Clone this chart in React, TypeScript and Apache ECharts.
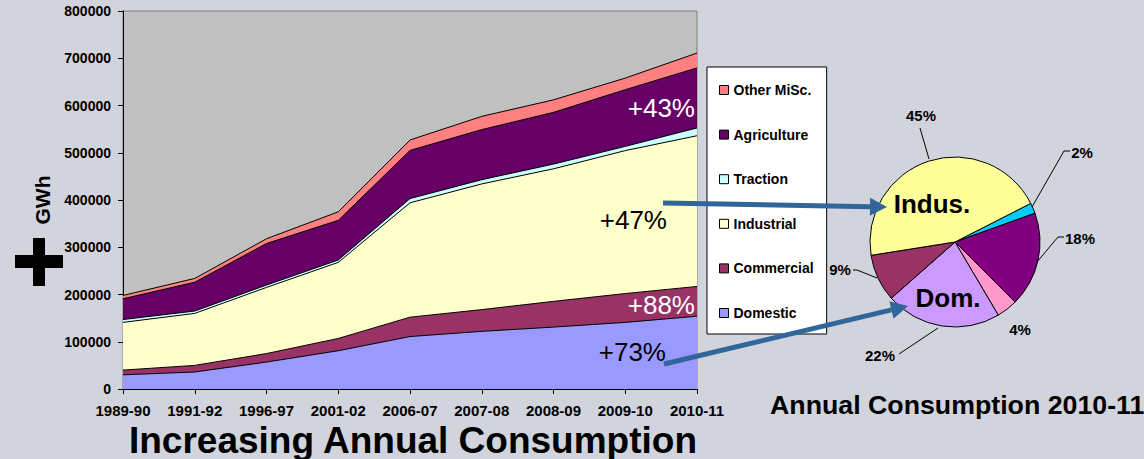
import { useEffect, useRef } from "react";
import * as echarts from "echarts";

// Annual consumption by sector, GWh (stacked bottom to top)
const years = ["1989-90", "1991-92", "1996-97", "2001-02", "2006-07", "2007-08", "2008-09", "2009-10", "2010-11"];
const domestic = [30000, 36000, 57000, 81000, 111000, 122000, 131000, 141000, 154000];
const commercial = [10000, 14000, 18000, 26000, 41000, 46000, 54500, 61000, 63000];
const industrial = [101000, 110000, 140000, 161000, 242000, 266000, 280500, 302500, 319000];
const traction = [6000, 5000, 5000, 5000, 9000, 9000, 10000, 9000, 16500];
const agriculture = [44000, 61000, 88000, 84000, 102000, 106000, 109500, 120000, 127000];
const otherMisc = [7000, 8000, 10000, 18000, 22000, 28000, 26500, 24500, 31500];

const yTicks = { min: 0, max: 800000, interval: 100000 };

// Share of each sector in 2010-11, %
const pieNames = ["Traction", "Agriculture", "Other MiSc.", "Domestic", "Commercial", "Industrial"];
const pieShares = [2, 18, 4, 22, 9, 45];

const growthLabels = ["+43%", "+47%", "+88%", "+73%"];

const FONT = '"Liberation Sans", Arial, Helvetica, sans-serif';
const ARROW = "#31669A";

const areaColors: Record<string, string> = {
  Domestic: "#9999FF",
  Commercial: "#993366",
  Industrial: "#FFFFCC",
  Traction: "#CCFFFF",
  Agriculture: "#660066",
  "Other MiSc.": "#FF8080",
};

const pieColors: Record<string, string> = {
  Traction: "#00CCFF",
  Agriculture: "#800080",
  "Other MiSc.": "#FF99CC",
  Domestic: "#CC99FF",
  Commercial: "#993366",
  Industrial: "#FFFF99",
};

function arrow(x1: number, y1: number, x2: number, y2: number) {
  const dx = x2 - x1;
  const dy = y2 - y1;
  const len = Math.hypot(dx, dy);
  const ux = dx / len;
  const uy = dy / len;
  const head = 17;
  const half = 9;
  const bx = x2 - ux * head;
  const by = y2 - uy * head;
  return [
    {
      type: "line",
      z: 100,
      shape: { x1, y1, x2: bx, y2: by },
      style: { stroke: ARROW, lineWidth: 5 },
    },
    {
      type: "polygon",
      z: 100,
      shape: {
        points: [
          [x2, y2],
          [bx - uy * half, by + ux * half],
          [bx + uy * half, by - ux * half],
        ],
      },
      style: { fill: ARROW },
    },
  ];
}

function leader(points: number[][]) {
  return { type: "polyline", z: 50, shape: { points }, style: { stroke: "#000", lineWidth: 1, fill: null } };
}

function buildOption() {
  const stacked = [
    { name: "Domestic", data: domestic },
    { name: "Commercial", data: commercial },
    { name: "Industrial", data: industrial },
    { name: "Traction", data: traction },
    { name: "Agriculture", data: agriculture },
    { name: "Other MiSc.", data: otherMisc },
  ];

  // label centres around the pie, by slice order
  const pieLabelPos = [
    [1082, 152],
    [1080, 238],
    [1020, 329],
    [880, 355],
    [840, 269],
    [921, 115],
  ];

  const growthText = (text: string, x: number, y: number, color: string) => ({
    type: "text",
    z: 60,
    x,
    y,
    style: {
      text,
      fill: color,
      font: `26px ${FONT}`,
      textAlign: "right",
      textVerticalAlign: "middle",
    },
  });

  return {
    animation: false,
    backgroundColor: "#D1D4DC",
    textStyle: { fontFamily: FONT },
    grid: {
      left: 123,
      right: 447,
      top: 11,
      bottom: 70,
      show: true,
      backgroundColor: "#C0C0C0",
      borderColor: "#808080",
      borderWidth: 1,
    },
    legend: {
      orient: "vertical",
      left: 707,
      top: 67,
      padding: [16, 13, 14, 12],
      itemGap: 30.6,
      itemWidth: 9,
      itemHeight: 9,
      icon: "rect",
      selectedMode: false,
      backgroundColor: "#FFFFFF",
      borderColor: "#000000",
      borderWidth: 1,
      borderRadius: 0,
      data: ["Other MiSc.", "Agriculture", "Traction", "Industrial", "Commercial", "Domestic"],
      itemStyle: { borderColor: "#000", borderWidth: 1 },
      textStyle: { fontFamily: FONT, fontSize: 14, fontWeight: "bold", color: "#000" },
    },
    xAxis: {
      type: "category",
      data: years,
      boundaryGap: false,
      axisLine: { lineStyle: { color: "#000", width: 1 } },
      axisTick: { show: true, length: 5, lineStyle: { color: "#000" } },
      axisLabel: {
        fontFamily: FONT,
        fontSize: 15,
        fontWeight: "bold",
        color: "#000",
        margin: 14,
        interval: 0,
        lineHeight: 15,
      },
      splitLine: { show: false },
    },
    yAxis: {
      type: "value",
      min: yTicks.min,
      max: yTicks.max,
      interval: yTicks.interval,
      name: "GWh",
      nameLocation: "middle",
      nameGap: 68,
      nameRotate: 90,
      nameTextStyle: { fontFamily: FONT, fontSize: 21, fontWeight: "bold", color: "#000" },
      axisLine: { show: true, lineStyle: { color: "#000", width: 1 } },
      axisTick: { show: true, length: 5, lineStyle: { color: "#000" } },
      axisLabel: {
        fontFamily: FONT,
        fontSize: 14,
        fontWeight: "bold",
        color: "#000",
        margin: 12,
        formatter: (v: number) => String(v),
      },
      splitLine: { show: false },
    },
    series: [
      ...stacked.map((s) => ({
        name: s.name,
        type: "line",
        stack: "total",
        data: s.data,
        showSymbol: false,
        symbol: "none",
        color: areaColors[s.name],
        lineStyle: { color: "#000", width: 1 },
        areaStyle: { color: areaColors[s.name], opacity: 1 },
        itemStyle: { color: areaColors[s.name] },
        emphasis: { disabled: true },
      })),
      {
        type: "pie",
        name: "Annual Consumption 2010-11",
        center: [955, 242],
        radius: 85,
        startAngle: 27,
        clockwise: true,
        avoidLabelOverlap: false,
        emphasis: { disabled: true },
        itemStyle: { borderColor: "#000", borderWidth: 1 },
        label: {
          show: true,
          position: "outside",
          formatter: "{c}%",
          fontFamily: FONT,
          fontSize: 15,
          fontWeight: "bold",
          color: "#000",
        },
        labelLine: { show: false },
        labelLayout: (params: any) => ({
          x: pieLabelPos[params.dataIndex][0],
          y: pieLabelPos[params.dataIndex][1],
          align: "center",
          verticalAlign: "middle",
        }),
        data: pieNames.map((n, i) => ({
          name: n,
          value: pieShares[i],
          itemStyle: { color: pieColors[n] },
        })),
      },
    ],
    graphic: [
      // big plus sign beside the value axis
      { type: "rect", z: 50, shape: { x: 33, y: 238, width: 12, height: 48 }, style: { fill: "#000" } },
      { type: "rect", z: 50, shape: { x: 15, y: 255, width: 48, height: 13 }, style: { fill: "#000" } },
      growthText(growthLabels[0], 695, 108, "#FFFFFF"),
      growthText(growthLabels[1], 667, 220, "#000000"),
      growthText(growthLabels[2], 695, 305, "#FFFFFF"),
      growthText(growthLabels[3], 666, 352, "#000000"),
      leader([[920, 128], [929, 159]]),
      leader([[1032, 207], [1064, 151], [1070, 151]]),
      leader([[1037, 262], [1058, 237], [1064, 237]]),
      leader([[938, 328], [899, 354]]),
      leader([[853, 270], [857, 270], [877, 278]]),
      ...arrow(663, 203, 887, 207),
      ...arrow(664, 364, 908, 306),
      {
        type: "text",
        z: 90,
        x: 932,
        y: 204,
        style: { text: "Indus.", fill: "#000", font: `bold 26px ${FONT}`, textAlign: "center", textVerticalAlign: "middle" },
      },
      {
        type: "text",
        z: 90,
        x: 948,
        y: 298,
        style: { text: "Dom.", fill: "#000", font: `bold 26px ${FONT}`, textAlign: "center", textVerticalAlign: "middle" },
      },
      {
        type: "text",
        z: 90,
        x: 413,
        y: 440,
        style: {
          text: "Increasing Annual Consumption",
          fill: "#000",
          font: `bold 37px ${FONT}`,
          lineHeight: 30,
          textAlign: "center",
          textVerticalAlign: "middle",
        },
      },
      {
        type: "text",
        z: 90,
        x: 770,
        y: 405,
        scaleX: 1.07,
        style: {
          text: "Annual Consumption 2010-11",
          fill: "#000",
          font: `bold 25px ${FONT}`,
          textAlign: "left",
          textVerticalAlign: "middle",
        },
      },
    ],
  };
}

export default function App() {
  const ref = useRef<HTMLDivElement>(null);
  useEffect(() => {
    if (!ref.current) return;
    const chart = echarts.init(ref.current, null, { renderer: "svg" });
    chart.setOption(buildOption() as any);
    return () => chart.dispose();
  }, []);
  return (
    <div
      ref={ref}
      style={{ position: "fixed", left: 0, top: 0, width: 1144, height: 459, background: "#D1D4DC" }}
    />
  );
}
